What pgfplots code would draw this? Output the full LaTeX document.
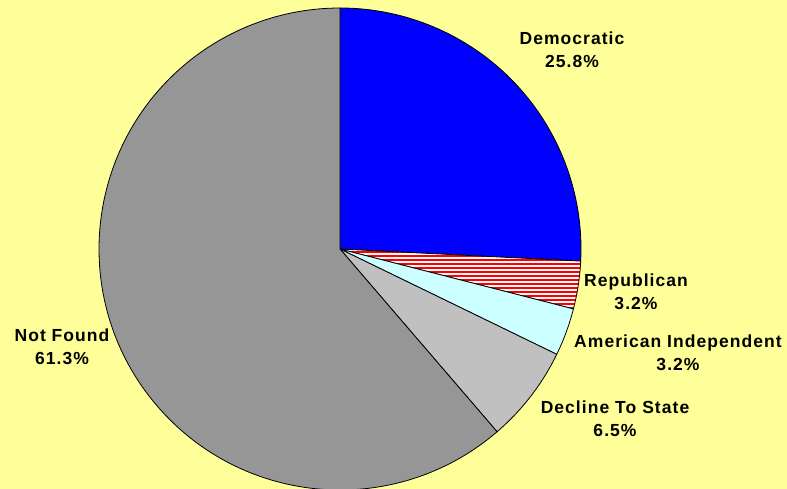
\documentclass[border=0pt]{standalone}
\usepackage{pgfplots}
\pgfplotsset{compat=1.18}
\usepackage{pgfplotstable}
\usepackage{fontspec}
\setmainfont{Liberation Sans}
\newfontfamily\lblfont{Liberation Sans}[LetterSpace=6]

\definecolor{bgyellow}{RGB}{255,255,153}
\definecolor{demblue}{RGB}{0,0,255}
\definecolor{aicyan}{RGB}{204,255,255}
\definecolor{dtsgray}{RGB}{192,192,192}
\definecolor{nfgray}{RGB}{150,150,150}

\tikzset{
  dem/.style={fill=demblue},
  rep/.style={fill=white,path picture={
    \foreach \k in {0,...,40}
      \fill[red] ([yshift=\k*4pt]path picture bounding box.south west) rectangle ++(400pt,2.1pt);}},
  ai/.style={fill=aicyan},
  dts/.style={fill=dtsgray},
  nf/.style={fill=nfgray},
  lbl/.style={align=center,font=\lblfont\fontsize{17.5}{23}\selectfont\bfseries},
}

% share of each party, clockwise from 12 o'clock
\pgfplotstableread{
value style
25.8 dem
3.2 rep
3.2 ai
6.5 dts
61.3 nf
}\piedata

\begin{document}
\begin{tikzpicture}
\begin{axis}[
  width=787pt,height=489pt,scale only axis,
  xmin=0,xmax=787,ymin=0,ymax=489,
  hide axis,clip=true]
\fill[bgyellow] (rel axis cs:0,0) rectangle (rel axis cs:1,1);
\pgfplotstablegetrowsof{\piedata}
\pgfmathtruncatemacro\nrows{\pgfplotsretval-1}
\def\cum{0}
\pgfplotsforeachungrouped \i in {0,...,\nrows}{
  \pgfplotstablegetelem{\i}{value}\of\piedata \let\pv\pgfplotsretval
  \pgfplotstablegetelem{\i}{style}\of\piedata \let\ps\pgfplotsretval
  \pgfmathsetmacro\pa{90-3.6*\cum}
  \pgfmathsetmacro\pb{90-3.6*(\cum+\pv)}
  \edef\temp{\noexpand\filldraw[\ps,draw=black,line width=0.8pt] (axis cs:340,240) -- ++(\pa:241pt)
    arc[start angle=\pa,end angle=\pb,radius=241pt] -- cycle;}
  \temp
  \pgfmathsetmacro\cum{\cum+\pv}
}
\node[lbl] at (axis cs:572,439) {Democratic\\25.8\%};
\node[lbl] at (axis cs:636,197) {Republican\\3.2\%};
\node[lbl] at (axis cs:678,136) {American Independent\\3.2\%};
\node[lbl] at (axis cs:615,70) {Decline To State\\6.5\%};
\node[lbl] at (axis cs:62,142) {Not Found\\61.3\%};
\end{axis}
\end{tikzpicture}
\end{document}
